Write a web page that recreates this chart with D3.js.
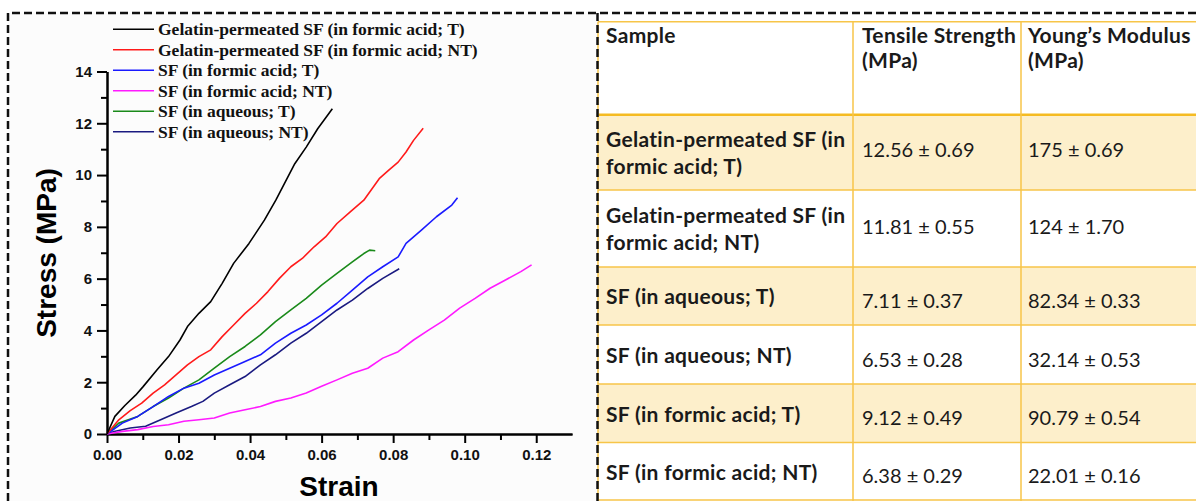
<!DOCTYPE html>
<html>
<head>
<meta charset="utf-8">
<script src="https://cdn.jsdelivr.net/npm/d3@7/dist/d3.min.js"></script>
<style>
  body { margin: 0; background: #fff; }
  svg { display: block; }
  .axis path, .axis line { stroke: #000; stroke-width: 2; }
  .axis text { font-family: "Liberation Sans", Arial, sans-serif; font-weight: bold; font-size: 15px; fill: #111; }
  .axis-title { font-family: "Liberation Sans", Arial, sans-serif; font-weight: bold; font-size: 28px; fill: #000; }
  .legend text { font-family: "Liberation Serif", "Times New Roman", serif; font-weight: bold; font-size: 17.5px; fill: #111; }
  .cell text { font-family: Lato, "Open Sans", sans-serif; font-size: 20px; fill: #1a1a1a; }
  .cell text.bold { font-weight: bold; font-size: 21px; letter-spacing: 0.3px; }
</style>
</head>
<body>
<div id="figure"></div>
<script>
// ---- chart data: [strain, stress (MPa)] ----
const seriesNames = [
    "Gelatin-permeated SF (in formic acid; T)",
    "Gelatin-permeated SF (in formic acid; NT)",
    "SF (in formic acid; T)",
    "SF (in formic acid; NT)",
    "SF (in aqueous; T)",
    "SF (in aqueous; NT)"
];

const gelatinFormicT = [[0,0],[0.0022,0.68],[0.005,1.1],[0.008,1.5],[0.0101,1.83],[0.014,2.48],[0.0172,2.99],
    [0.0204,3.63],[0.0225,4.15],[0.0257,4.66],[0.029,5.11],[0.0322,5.82],[0.0354,6.59],[0.0397,7.36],[0.044,8.26],
    [0.0472,9.03],[0.0525,10.44],[0.0557,11.08],[0.0589,11.79],[0.063,12.56]];

const gelatinFormicNT = [[0,0],[0.0033,0.55],[0.0065,0.9],[0.0097,1.19],[0.0129,1.58],[0.0161,1.9],[0.0193,2.28],
    [0.0225,2.67],[0.0257,2.99],[0.029,3.25],[0.0322,3.76],[0.0354,4.21],[0.0386,4.66],[0.0418,5.05],[0.045,5.5],
    [0.0482,6.01],[0.0514,6.46],[0.0546,6.78],[0.0579,7.23],[0.0611,7.61],[0.0643,8.13],[0.068,8.58],[0.0718,9.03],
    [0.0761,9.86],[0.0787,10.18],[0.0814,10.5],[0.0836,10.89],[0.0857,11.34],[0.0884,11.81]];

const sfFormicT = [[0,0],[0.0043,0.42],[0.0086,0.68],[0.0129,1.06],[0.0172,1.45],[0.0215,1.77],[0.0257,1.96],
    [0.03,2.28],[0.0343,2.54],[0.0386,2.8],[0.0429,3.06],[0.0471,3.51],[0.0514,3.89],[0.0557,4.21],[0.06,4.6],
    [0.0643,5.05],[0.0686,5.56],[0.0729,6.07],[0.0771,6.46],[0.0814,6.84],[0.0836,7.36],[0.0879,7.87],[0.0921,8.39],
    [0.0964,8.84],[0.098,9.12]];

const sfFormicNT = [[0,0],[0.0043,0.1],[0.0086,0.17],[0.0129,0.29],[0.0172,0.36],[0.0215,0.49],[0.0257,0.55],
    [0.03,0.62],[0.0343,0.81],[0.0386,0.94],[0.0429,1.06],[0.0471,1.26],[0.0514,1.39],[0.0557,1.58],[0.06,1.84],
    [0.0643,2.09],[0.0686,2.35],[0.0729,2.54],[0.0771,2.93],[0.0814,3.18],[0.0857,3.63],[0.09,4.02],[0.0943,4.4],
    [0.0986,4.86],[0.1029,5.24],[0.1071,5.63],[0.1114,5.95],[0.1157,6.27],[0.1187,6.53]];

const sfAqueousT = [[0,0],[0.0033,0.42],[0.0086,0.68],[0.0129,1.06],[0.0172,1.39],[0.0215,1.77],[0.0257,2.09],
    [0.03,2.54],[0.0343,2.99],[0.0386,3.38],[0.0429,3.83],[0.0471,4.34],[0.0514,4.79],[0.0557,5.24],[0.06,5.75],
    [0.0643,6.2],[0.0686,6.65],[0.0718,6.97],[0.0734,7.1],[0.075,7.08]];

const sfAqueousNT = [[0,0],[0.002,0.1],[0.0065,0.23],[0.0108,0.3],[0.015,0.55],[0.0193,0.81],[0.0236,1.06],
    [0.0268,1.26],[0.03,1.58],[0.0343,1.9],[0.0386,2.22],[0.0429,2.67],[0.0471,3.06],[0.0514,3.51],[0.0557,3.89],
    [0.06,4.34],[0.0643,4.79],[0.0686,5.17],[0.0729,5.62],[0.0771,6.01],[0.0817,6.38]];

const seriesValues = [gelatinFormicT, gelatinFormicNT, sfFormicT, sfFormicNT, sfAqueousT, sfAqueousNT];

const strainTicks = [0, 0.02, 0.04, 0.06, 0.08, 0.10, 0.12];
const stressTicks = [0, 2, 4, 6, 8, 10, 12, 14];

// ---- table data ----
const tableHeaders = [["Sample"], ["Tensile Strength", "(MPa)"], ["Young\u2019s Modulus", "(MPa)"]];
const sampleLabels = [
    ["Gelatin-permeated SF (in", "formic acid; T)"],
    ["Gelatin-permeated SF (in", "formic acid; NT)"],
    ["SF (in aqueous; T)"],
    ["SF (in aqueous; NT)"],
    ["SF (in formic acid; T)"],
    ["SF (in formic acid; NT)"]
];
const tensileStrength = ["12.56 \u00b1 0.69", "11.81 \u00b1 0.55", "7.11 \u00b1 0.37", "6.53 \u00b1 0.28", "9.12 \u00b1 0.49", "6.38 \u00b1 0.29"];
const youngsModulus = ["175 \u00b1 0.69", "124 \u00b1 1.70", "82.34 \u00b1 0.33", "32.14 \u00b1 0.53", "90.79 \u00b1 0.54", "22.01 \u00b1 0.16"];


class StressStrainChart {
    constructor(_config) {
        this.config = {
            svg: _config.svg,
            left: 107, right: 572, top: 71.5, bottom: 434
        };
        this.initVis();
    }

    initVis() {
        let vis = this;
        const c = vis.config;

        vis.xScale = d3.scaleLinear().domain([0, 0.13]).range([c.left, c.right]);
        vis.yScale = d3.scaleLinear().domain([0, 14]).range([c.bottom, c.top]);
        vis.colorScale = d3.scaleOrdinal()
            .domain(seriesNames)
            .range(['#000000', '#ff1a1a', '#1a1aff', '#ff1aff', '#1a8a1a', '#1a1a80']);

        vis.g = c.svg.append('g');

        // panel background
        vis.g.append('rect')
            .attr('x', 8).attr('y', 13)
            .attr('width', 590).attr('height', 490)
            .attr('fill', '#fcfcfc');

        // minor ticks first, majors on top
        const minorX = d3.range(1, 13, 2).map(d => d / 100);
        const minorY = d3.range(1, 14, 2);

        vis.g.append('g')
            .attr('class', 'axis')
            .attr('transform', `translate(0,${c.bottom})`)
            .call(d3.axisBottom(vis.xScale).tickValues(minorX).tickSize(6).tickSizeOuter(0).tickFormat(''));
        vis.g.append('g')
            .attr('class', 'axis')
            .attr('transform', `translate(${c.left},0)`)
            .call(d3.axisLeft(vis.yScale).tickValues(minorY).tickSize(6).tickSizeOuter(0).tickFormat(''));

        vis.g.append('g')
            .attr('class', 'axis')
            .attr('transform', `translate(0,${c.bottom})`)
            .call(d3.axisBottom(vis.xScale).tickValues(strainTicks).tickSize(9).tickPadding(6)
                .tickSizeOuter(0).tickFormat(d3.format('.2f')));
        vis.g.append('g')
            .attr('class', 'axis')
            .attr('transform', `translate(${c.left},0)`)
            .call(d3.axisLeft(vis.yScale).tickValues(stressTicks).tickSize(10).tickPadding(5)
                .tickSizeOuter(0).tickFormat(d3.format('d')));

        // axis titles
        vis.g.append('text')
            .attr('class', 'axis-title')
            .attr('text-anchor', 'middle')
            .attr('transform', 'translate(46,253) rotate(-90)')
            .attr('dy', '0.35em')
            .text('Stress (MPa)');
        vis.g.append('text')
            .attr('class', 'axis-title')
            .attr('text-anchor', 'middle')
            .attr('x', 339).attr('y', 496)
            .text('Strain');

        vis.marksG = vis.g.append('g');
        vis.legendG = vis.g.append('g').attr('class', 'legend');
    }

    renderVis() {
        let vis = this;

        const line = d3.line()
            .x(d => vis.xScale(d[0]))
            .y(d => vis.yScale(d[1]));

        // draw the lowest legend entry first so black ends up on top
        const order = seriesNames.map((name, i) => ({ name, values: seriesValues[i] })).reverse();

        vis.marksG.selectAll('.curve')
            .data(order)
            .join('path')
            .attr('class', 'curve')
            .attr('fill', 'none')
            .attr('stroke', d => vis.colorScale(d.name))
            .attr('stroke-width', 1.6)
            .attr('stroke-linejoin', 'round')
            .attr('d', d => line(d.values));

        const items = vis.legendG.selectAll('.legend-item')
            .data(seriesNames)
            .join('g')
            .attr('class', 'legend-item')
            .attr('transform', (d, i) => `translate(113, ${29.3 + i * 20.5})`);

        items.append('line')
            .attr('x1', 0).attr('x2', 41)
            .attr('stroke', d => vis.colorScale(d))
            .attr('stroke-width', 1.6);

        items.append('text')
            .attr('x', 45)
            .attr('dy', '0.35em')
            .text(d => d);
    }
}


class PropertyTable {
    constructor(_config) {
        this.config = {
            svg: _config.svg,
            colX: [598, 853, 1021, 1200],
            rowY: [21.7, 114.7, 190, 267, 325, 384, 442.5, 500]
        };
        this.initVis();
    }

    initVis() {
        let vis = this;
        const c = vis.config;
        const gold = '#f7c548';

        vis.g = c.svg.append('g').attr('class', 'cell');

        const rows = sampleLabels.map((label, i) => ({
            label, ts: tensileStrength[i], ym: youngsModulus[i], i
        }));

        // highlighted rows
        vis.g.selectAll('.row-bg')
            .data(rows.filter(r => r.i % 2 === 0))
            .join('rect')
            .attr('class', 'row-bg')
            .attr('x', c.colX[0])
            .attr('y', d => c.rowY[d.i + 1])
            .attr('width', c.colX[3] - c.colX[0])
            .attr('height', d => c.rowY[d.i + 2] - c.rowY[d.i + 1])
            .attr('fill', '#fdefcb');

        // grid
        vis.g.selectAll('.hline')
            .data(c.rowY)
            .join('line')
            .attr('class', 'hline')
            .attr('x1', c.colX[0]).attr('x2', c.colX[3])
            .attr('y1', d => d).attr('y2', d => d)
            .attr('stroke', (d, i) => i === 1 ? '#f5bb22' : gold)
            .attr('stroke-width', (d, i) => i === 1 ? 2.5 : 1.5);

        vis.g.selectAll('.vline')
            .data(c.colX.slice(0, 3))
            .join('line')
            .attr('class', 'vline')
            .attr('x1', d => d).attr('x2', d => d)
            .attr('y1', c.rowY[0]).attr('y2', 501)
            .attr('stroke', gold)
            .attr('stroke-width', 1.5);

        // header
        const pad = [8, 9, 7];
        tableHeaders.forEach((lines, j) => {
            lines.forEach((t, k) => {
                vis.g.append('text')
                    .attr('class', 'bold')
                    .attr('x', c.colX[j] + pad[j])
                    .attr('y', 43 + k * 25)
                    .text(t);
            });
        });

        // body
        rows.forEach(r => {
            const mid = (c.rowY[r.i + 1] + c.rowY[r.i + 2]) / 2;
            const twoLine = r.label.length === 2;
            r.label.forEach((t, k) => {
                const off = twoLine ? (k === 0 ? -13 : 14) : 1;
                vis.g.append('text')
                    .attr('class', 'bold')
                    .attr('x', c.colX[0] + pad[0])
                    .attr('y', mid + off)
                    .attr('dy', '0.35em')
                    .text(t);
            });
            [r.ts, r.ym].forEach((t, j) => {
                vis.g.append('text')
                    .attr('x', c.colX[j + 1] + pad[j + 1])
                    .attr('y', mid + (twoLine ? -2 : 5))
                    .attr('dy', '0.35em')
                    .text(t);
            });
        });
    }
}


const svg = d3.select('#figure')
    .append('svg')
    .attr('width', 1196)
    .attr('height', 501);

const chart = new StressStrainChart({ svg });
chart.renderVis();
new PropertyTable({ svg });

// dashed frame around the two panels
const frame = svg.append('g')
    .attr('fill', 'none')
    .attr('stroke', '#111')
    .attr('stroke-width', 2.5)
    .attr('stroke-dasharray', '8,4');
frame.append('path').attr('d', 'M8,501 V13 H1196');
frame.append('path').attr('d', 'M597.5,13 V501');
</script>
</body>
</html>
